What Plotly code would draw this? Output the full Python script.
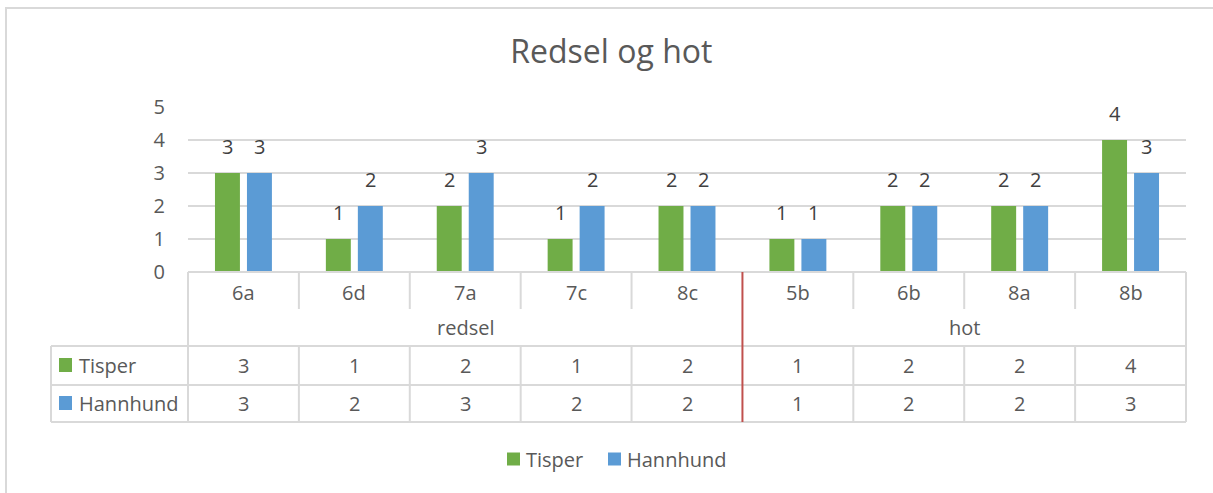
import plotly.graph_objects as go

categories = ["6a", "6d", "7a", "7c", "8c", "5b", "6b", "8a", "8b"]
groups = ["redsel", "hot"]
group_sizes = [5, 4]
series_names = ["Tisper", "Hannhund"]
tisper = [3, 1, 2, 1, 2, 1, 2, 2, 4]
hannhund = [3, 2, 3, 2, 2, 1, 2, 2, 3]
colors = ["#70AD47", "#5B9BD5"]
title = "Redsel og hot"
yticks = [0, 1, 2, 3, 4, 5]

W, H = 1213, 493
L, R, T, B = 188, 1186, 107, 272
FONT = "Open Sans"
TXT = "#595959"
GRID = "#D9D9D9"


def py(p):
    return (B - p) / (B - T)


def px(p):
    return (p - L) / (R - L)


fig = go.Figure()
series = [tisper, hannhund]
for name, vals, col in zip(series_names, series, colors):
    fig.add_trace(go.Bar(name=name, x=categories, y=vals, marker=dict(color=col, line=dict(width=0)),
                         showlegend=False))

annotations = []
shifts = [-16, 16]
for vals, sh in zip(series, shifts):
    for c, v in zip(categories, vals):
        annotations.append(dict(x=c, y=v, xref="x", yref="y", text=str(v), showarrow=False,
                                xshift=sh, yshift=27, yanchor="middle",
                                font=dict(family=FONT, size=20, color="#404040")))

# category labels row
for c in categories:
    annotations.append(dict(x=c, y=py(292), xref="x", yref="paper", text=c, showarrow=False,
                            yanchor="middle", font=dict(family=FONT, size=20, color=TXT)))
# group labels
start = 0
for g, n in zip(groups, group_sizes):
    center = start + (n - 1) / 2
    annotations.append(dict(x=center, y=py(327), xref="x", yref="paper", text=g, showarrow=False,
                            yanchor="middle", font=dict(family=FONT, size=20, color=TXT)))
    start += n
# value rows
row_y = [365, 403]
for name, vals, ry, col in zip(series_names, series, row_y, colors):
    for c, v in zip(categories, vals):
        annotations.append(dict(x=c, y=py(ry), xref="x", yref="paper", text=str(v), showarrow=False,
                                yanchor="middle", font=dict(family=FONT, size=20, color=TXT)))
    annotations.append(dict(x=px(77), y=py(ry), xref="paper", yref="paper", text=name, showarrow=False,
                            xanchor="left", yanchor="middle", font=dict(family=FONT, size=20, color=TXT)))

shapes = []
line = dict(color=GRID, width=2)
# outer chart border
shapes.append(dict(type="rect", xref="paper", yref="paper", x0=px(6), x1=px(1225), y0=py(8), y1=py(505),
                   line=dict(color=GRID, width=2), layer="below"))
# horizontal table lines
shapes.append(dict(type="line", xref="paper", yref="paper", x0=0, x1=1, y0=0, y1=0, line=line))
for yy in [346, 385, 422]:
    shapes.append(dict(type="line", xref="paper", yref="paper", x0=px(51), x1=1, y0=py(yy), y1=py(yy), line=line))
# outer verticals
shapes.append(dict(type="line", xref="paper", yref="paper", x0=px(51), x1=px(51), y0=py(346), y1=py(422), line=line))
shapes.append(dict(type="line", xref="paper", yref="paper", x0=0, x1=0, y0=0, y1=py(422), line=line))
shapes.append(dict(type="line", xref="paper", yref="paper", x0=1, x1=1, y0=0, y1=py(422), line=line))
# category separators
boundary = group_sizes[0]
for k in range(1, len(categories)):
    xk = k - 0.5
    if k == boundary:
        shapes.append(dict(type="line", xref="x", yref="paper", x0=xk, x1=xk, y0=0, y1=py(422),
                           line=dict(color="#C0504D", width=2)))
    else:
        shapes.append(dict(type="line", xref="x", yref="paper", x0=xk, x1=xk, y0=0, y1=py(309), line=line))
        shapes.append(dict(type="line", xref="x", yref="paper", x0=xk, x1=xk, y0=py(346), y1=py(422), line=line))
# legend keys in table
for ry, col in zip(row_y, colors):
    shapes.append(dict(type="rect", xref="paper", yref="paper", x0=px(59), x1=px(72), y0=py(ry - 7), y1=py(ry + 7),
                       fillcolor=col, line=dict(width=0)))

# bottom legend (manual)
legend_key_x = [507, 608]
legend_y = 459
for name, col, kx in zip(series_names, colors, legend_key_x):
    shapes.append(dict(type="rect", xref="paper", yref="paper", x0=px(kx), x1=px(kx + 13),
                       y0=py(legend_y - 6.5), y1=py(legend_y + 6.5), fillcolor=col, line=dict(width=0)))
    annotations.append(dict(x=px(kx + 17), y=py(legend_y), xref="paper", yref="paper", text=name,
                            showarrow=False, xanchor="left", yanchor="middle",
                            font=dict(family=FONT, size=20, color=TXT)))

fig.update_layout(
    width=W, height=H,
    margin=dict(l=L, r=W - R, t=T, b=H - B),
    paper_bgcolor="white", plot_bgcolor="white",
    barmode="group", bargap=0.423, bargroupgap=0.22,
    title=dict(text=title, x=0.504, xref="container", y=(H - 52) / H, yref="container",
               xanchor="center", yanchor="middle", font=dict(family=FONT, size=32, color=TXT)),
    xaxis=dict(showticklabels=False, showgrid=False, showline=False, zeroline=False, ticks=""),
    yaxis=dict(range=[0, 5], tickvals=yticks, showgrid=True, gridcolor=GRID, gridwidth=2,
               zeroline=False, showline=False, ticks="", ticklabelstandoff=22,
               tickfont=dict(family=FONT, size=20, color=TXT)),
    annotations=annotations, shapes=shapes,
    showlegend=False,
)

fig.write_html("out.html", config={"displayModeBar": False},
               post_script="document.body.style.margin='0';document.body.style.overflow='hidden';")
